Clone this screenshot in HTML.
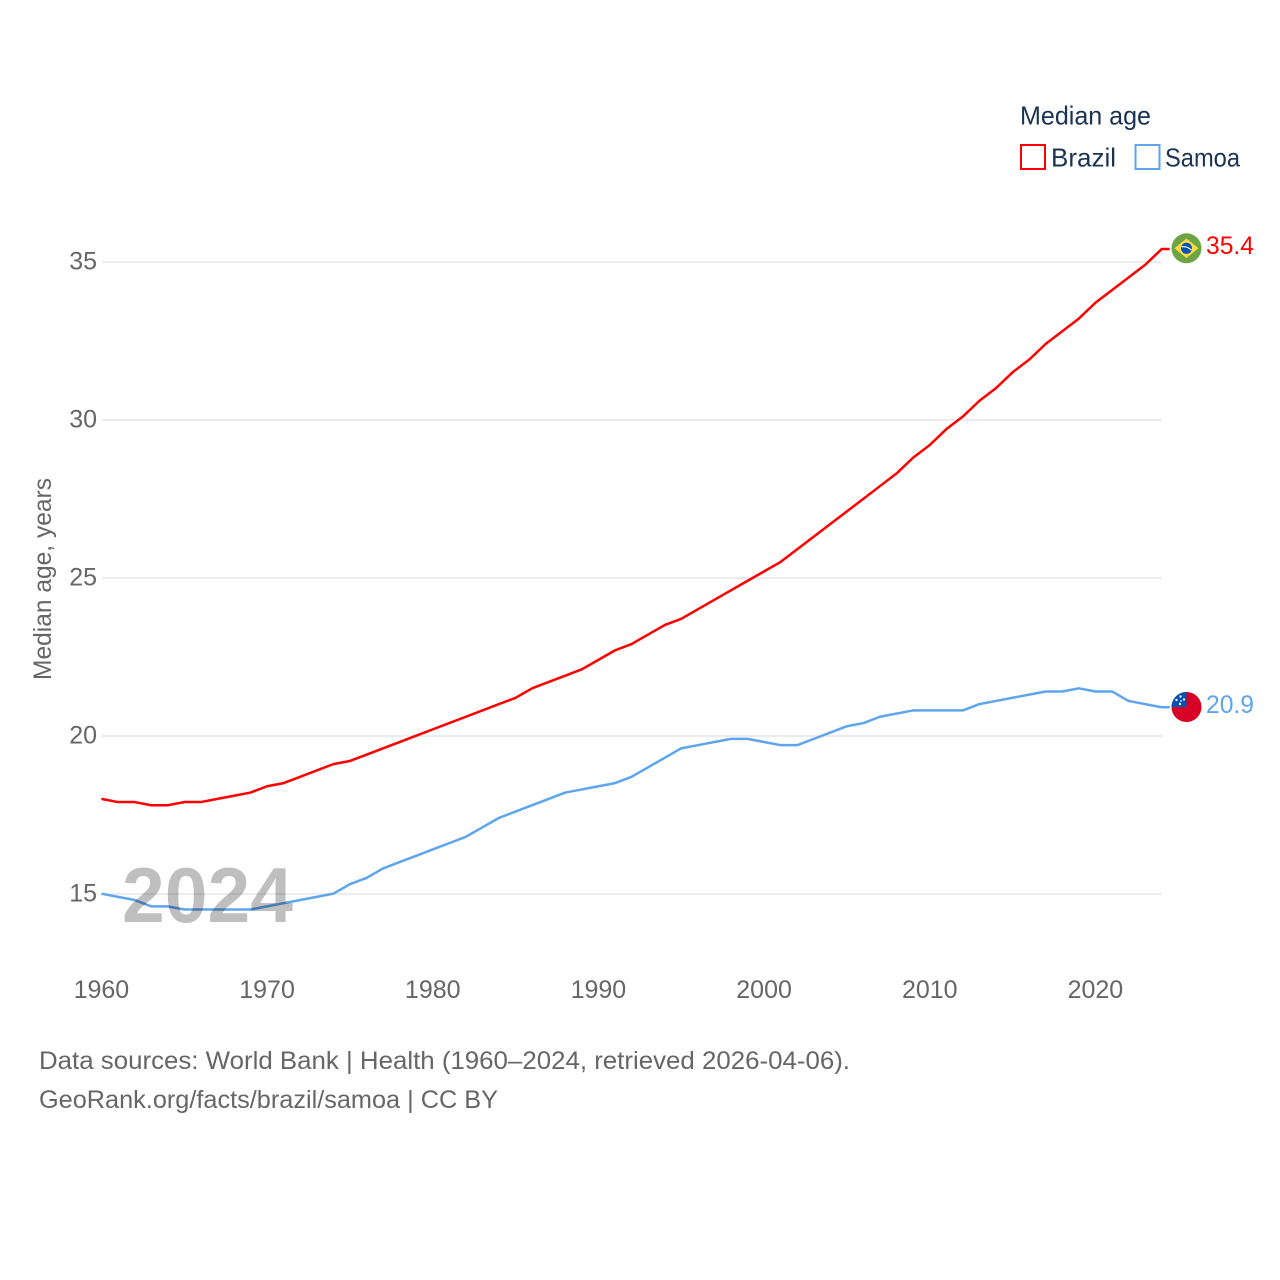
<!DOCTYPE html>
<html lang="en">
<head>
<meta charset="utf-8">
<title>Median age: Brazil and Samoa</title>
<style>
html,body{margin:0;padding:0;background:#fff;width:1280px;height:1280px;overflow:hidden}
svg{display:block;font-family:"Liberation Sans",sans-serif}
.tick{font-size:25px;fill:#666}
.src{font-size:25px;fill:#666}
.leg{font-size:26px;fill:#1a3353}
</style>
</head>
<body>
<svg id="chart" xmlns="http://www.w3.org/2000/svg" width="1280" height="1280" viewBox="0 0 1280 1280">
  <rect x="0" y="0" width="1280" height="1280" fill="#fff"/>
  <g id="grid"></g>
  <g id="yticks"></g>
  <g id="xticks"></g>
  <text class="tick" transform="translate(51 680) rotate(-90)" textLength="202" lengthAdjust="spacingAndGlyphs">Median age, years</text>
  <g id="series"></g>
  <text x="122" y="922" font-size="78" font-weight="700" fill="#000" fill-opacity="0.25" textLength="171" lengthAdjust="spacingAndGlyphs">2024</text>

  <g>
    <circle cx="1186.500" cy="248.300" r="15" fill="#6da544"/>
    <path d="M1186.500 238.500 L1198.500 248.300 L1186.500 258 L1174.500 248.300 Z" fill="#ffda44"/>
    <circle cx="1186.500" cy="248.300" r="5.500" fill="#0052b4"/>
    <path d="M1181.500 246.800 Q1186.500 245.800 1191.500 250" stroke="#f0f0f0" stroke-width="1.300" fill="none"/>
  </g>
  <text id="brazil-value" x="1206" y="254" font-size="25" fill="#ff0000" textLength="48" lengthAdjust="spacingAndGlyphs"></text>

  <g>
    <circle cx="1186.500" cy="707" r="15" fill="#d80027"/>
    <path d="M1171.500 707 A15 15 0 0 1 1186.500 692 L1186.500 707 Z" fill="#0052b4"/>
    <g fill="#f0f0f0">
      <circle cx="1180.500" cy="696.500" r="1.200"/>
      <circle cx="1184" cy="699.500" r="1.200"/>
      <circle cx="1176.500" cy="700" r="1.200"/>
      <circle cx="1181" cy="701" r="0.900"/>
      <circle cx="1180" cy="704" r="1.200"/>
    </g>
  </g>
  <text id="samoa-value" x="1206" y="713" font-size="25" fill="#5ea5ee" textLength="48" lengthAdjust="spacingAndGlyphs"></text>

  <g>
    <text class="leg" x="1020" y="124.500" textLength="131" lengthAdjust="spacingAndGlyphs">Median age</text>
    <g>
      <rect x="1021" y="145" width="24" height="24" fill="none" stroke="#ff0000" stroke-width="2"/>
      <text class="leg" x="1051" y="166.500" textLength="65" lengthAdjust="spacingAndGlyphs">Brazil</text>
    </g>
    <g>
      <rect x="1135.500" y="145" width="24" height="24" fill="none" stroke="#5ea5ee" stroke-width="2"/>
      <text class="leg" x="1165" y="166.500" textLength="75" lengthAdjust="spacingAndGlyphs">Samoa</text>
    </g>
  </g>

  <text class="src" x="39" y="1069" textLength="811" lengthAdjust="spacingAndGlyphs">Data sources: World Bank | Health (1960–2024, retrieved 2026-04-06).</text>
  <text class="src" x="39" y="1108" textLength="459" lengthAdjust="spacingAndGlyphs">GeoRank.org/facts/brazil/samoa | CC BY</text>
</svg>
<script>
const startYear = 1960;
const brazilValues = [18.0,17.9,17.9,17.8,17.8,17.9,17.9,18.0,18.1,18.2,18.4,18.5,18.7,18.9,19.1,19.2,19.4,19.6,19.8,20.0,20.2,20.4,20.6,20.8,21.0,21.2,21.5,21.7,21.9,22.1,22.4,22.7,22.9,23.2,23.5,23.7,24.0,24.3,24.6,24.9,25.2,25.5,25.9,26.3,26.7,27.1,27.5,27.9,28.3,28.8,29.2,29.7,30.1,30.6,31.0,31.5,31.9,32.4,32.8,33.2,33.7,34.1,34.5,34.9,35.4];
const samoaValues = [15.0,14.9,14.8,14.6,14.6,14.5,14.5,14.5,14.5,14.5,14.6,14.7,14.8,14.9,15.0,15.3,15.5,15.8,16.0,16.2,16.4,16.6,16.8,17.1,17.4,17.6,17.8,18.0,18.2,18.3,18.4,18.5,18.7,19.0,19.3,19.6,19.7,19.8,19.9,19.9,19.8,19.7,19.7,19.9,20.1,20.3,20.4,20.6,20.7,20.8,20.8,20.8,20.8,21.0,21.1,21.2,21.3,21.4,21.4,21.5,21.4,21.4,21.1,21.0,20.9];
const yTickValues = [15,20,25,30,35];
const xTickValues = [1960,1970,1980,1990,2000,2010,2020];

const NS = 'http://www.w3.org/2000/svg';
function xScale(year){ return 101.4 + (year - 1960) * 16.567; }
function yScale(v){ return 893.7 - (v - 15) * 31.6; }
const plotRight = xScale(2024);

const gridGroup = document.getElementById('grid');
const yGroup = document.getElementById('yticks');
yTickValues.forEach(function(v){
  const line = document.createElementNS(NS,'line');
  
  
  line.setAttribute('x1', 102);
  line.setAttribute('x2', 1162);
  line.setAttribute('y1', yScale(v) + 0.3);
  line.setAttribute('y2', yScale(v) + 0.3);
  line.setAttribute('stroke', '#ececec');
  line.setAttribute('stroke-width', '2');
  gridGroup.appendChild(line);
  const t = document.createElementNS(NS,'text');
  
  
  t.setAttribute('class', 'tick');
  t.setAttribute('x', 97);
  t.setAttribute('y', yScale(v) + 8);
  t.setAttribute('text-anchor', 'end');
  t.textContent = String(v);
  yGroup.appendChild(t);
});

const xGroup = document.getElementById('xticks');
xTickValues.forEach(function(year){
  const t = document.createElementNS(NS,'text');
  
  
  t.setAttribute('class', 'tick');
  t.setAttribute('x', xScale(year));
  t.setAttribute('y', 998);
  t.setAttribute('text-anchor', 'middle');
  t.textContent = String(year);
  xGroup.appendChild(t);
});

function linePoints(values){
  const pts = values.map(function(v,i){ return xScale(startYear + i).toFixed(2) + ',' + yScale(v).toFixed(2); });
  pts.push((plotRight + 8).toFixed(2) + ',' + yScale(values[values.length - 1]).toFixed(2));
  return pts.join(' ');
}
const seriesGroup = document.getElementById('series');

const samoaLine = document.createElementNS(NS,'polyline');


samoaLine.setAttribute('points', linePoints(samoaValues));
samoaLine.setAttribute('fill', 'none');
samoaLine.setAttribute('stroke', '#5ea5ee');
samoaLine.setAttribute('stroke-width', '2.5');
samoaLine.setAttribute('stroke-linejoin', 'round');
seriesGroup.appendChild(samoaLine);

const brazilLine = document.createElementNS(NS,'polyline');


brazilLine.setAttribute('points', linePoints(brazilValues));
brazilLine.setAttribute('fill', 'none');
brazilLine.setAttribute('stroke', '#ff0000');
brazilLine.setAttribute('stroke-width', '2.5');
brazilLine.setAttribute('stroke-linejoin', 'round');
seriesGroup.appendChild(brazilLine);

document.getElementById('brazil-value').textContent = brazilValues[brazilValues.length - 1].toFixed(1);
document.getElementById('samoa-value').textContent = samoaValues[samoaValues.length - 1].toFixed(1);
</script>
</body>
</html>
